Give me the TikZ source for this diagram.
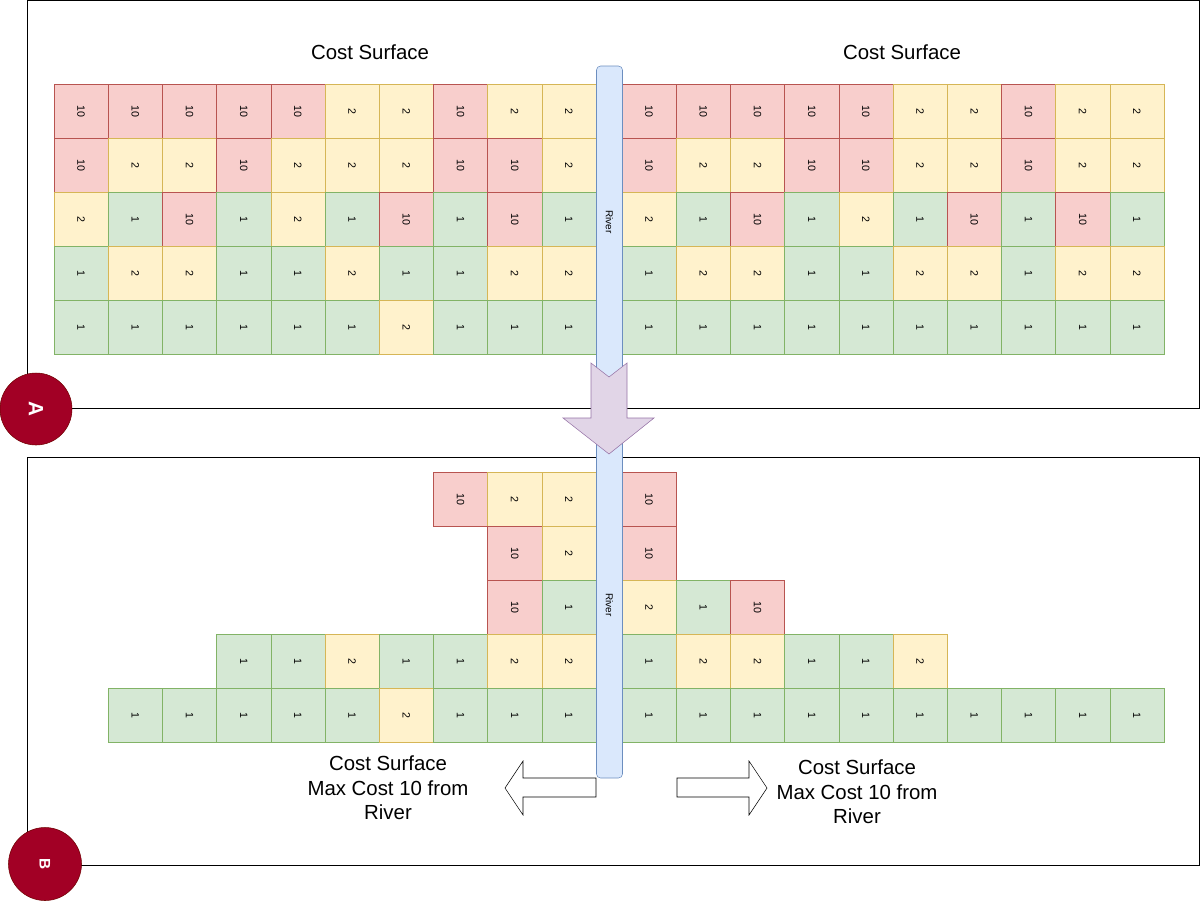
\documentclass[tikz,border=0pt]{standalone}
\usepackage{fontspec}
\setmainfont{Liberation Sans}
\definecolor{redfill}{HTML}{F8CECC}
\definecolor{redline}{HTML}{B85450}
\definecolor{yellowfill}{HTML}{FFF2CC}
\definecolor{yellowline}{HTML}{D6B656}
\definecolor{greenfill}{HTML}{D5E8D4}
\definecolor{greenline}{HTML}{82B366}
\definecolor{bluefill}{HTML}{DAE8FC}
\definecolor{blueline}{HTML}{6C8EBF}
\definecolor{purplefill}{HTML}{E1D5E7}
\definecolor{purpleline}{HTML}{9673A6}
\definecolor{badgefill}{HTML}{A20025}
\definecolor{badgeline}{HTML}{6F0000}
\begin{document}
\begin{tikzpicture}[x=0.75pt,y=-0.75pt,
    cell/.style={draw, minimum size=40.65pt, inner sep=0pt, rotate=-90, font=\fontsize{8}{9.5}\selectfont},
    v1/.style={fill=greenfill, draw=greenline},
    v2/.style={fill=yellowfill, draw=yellowline},
    v10/.style={fill=redfill, draw=redline},
    river/.style={draw=blueline, fill=bluefill, rounded corners=3pt, minimum height=19.5pt, inner sep=0pt, rotate=-90, font=\fontsize{7.5}{9}\selectfont},
    title/.style={font=\fontsize{15.3}{18.4}\selectfont, align=center},
    badge/.style={circle, fill=badgefill, draw=badgeline, inner sep=0pt, text=white, rotate=-90}]
  \useasboundingbox (0,0) rectangle (1200,901);
  \draw (27,0) rectangle (1199,408);
  \draw (27,457) rectangle (1199,865);
  \node[title] (costa) at (370,52) {Cost Surface};
  \node[title] (costb) at (902,52) {Cost Surface};
  \foreach \row [count=\r] in {{10,10,10,10,10,2,2,10,2,2,10,10,10,10,10,2,2,10,2,2},
      {10,2,2,10,2,2,2,10,10,2,10,2,2,10,10,2,2,10,2,2},
      {2,1,10,1,2,1,10,1,10,1,2,1,10,1,2,1,10,1,10,1},
      {1,2,2,1,1,2,1,1,2,2,1,2,2,1,1,2,2,1,2,2},
      {1,1,1,1,1,1,2,1,1,1,1,1,1,1,1,1,1,1,1,1}}{
    \foreach \v [count=\c] in \row {
      \node[cell, v\v] (a\r-\c) at ({81.1+(\c-1)*54.2+26*(\c>10)}, {111+(\r-1)*54}) {\v};
    }
  }
  \foreach \row [count=\r] in {{0,0,0,0,0,0,0,10,2,2,10,0,0,0,0,0,0,0,0,0},
      {0,0,0,0,0,0,0,0,10,2,10,0,0,0,0,0,0,0,0,0},
      {0,0,0,0,0,0,0,0,10,1,2,1,10,0,0,0,0,0,0,0},
      {0,0,0,1,1,2,1,1,2,2,1,2,2,1,1,2,0,0,0,0},
      {0,1,1,1,1,1,2,1,1,1,1,1,1,1,1,1,1,1,1,1}}{
    \foreach \v [count=\c] in \row {
      \ifnum\v>0
        \node[cell, v\v] (b\r-\c) at ({81.1+(\c-1)*54.2+26*(\c>10)}, {499+(\r-1)*54}) {\v};
      \fi
    }
  }
  \node[river, minimum width=234pt] (rivera) at (609.5,222) {River};
  \node[river, minimum width=259.5pt] (riverb) at (609.5,605) {River};
  \draw[draw=purpleline, fill=purplefill] (591,363) -- (609,377) -- (627,363) -- (627,418) -- (654,418)
    -- (609,454) -- (563,418) -- (591,418) -- cycle;
  \draw (596,778) -- (523,778) -- (523,761) -- (505,788) -- (523,815) -- (523,797) -- (596,797) -- cycle;
  \draw (677,778) -- (749,778) -- (749,761) -- (767,788) -- (749,815) -- (749,797) -- (677,797) -- cycle;
  \node[title] (maxa) at (388,788) {Cost Surface\\Max Cost 10 from\\River};
  \node[title] (maxb) at (857,792) {Cost Surface\\Max Cost 10 from\\River};
  \node[badge, minimum size=54pt, font=\fontsize{15.5}{18}\selectfont\bfseries] (panela) at (36,409) {A};
  \node[badge, minimum size=54.75pt, font=\fontsize{11.5}{14}\selectfont\bfseries] (panelb) at (45,864) {B};
\end{tikzpicture}
\end{document}
